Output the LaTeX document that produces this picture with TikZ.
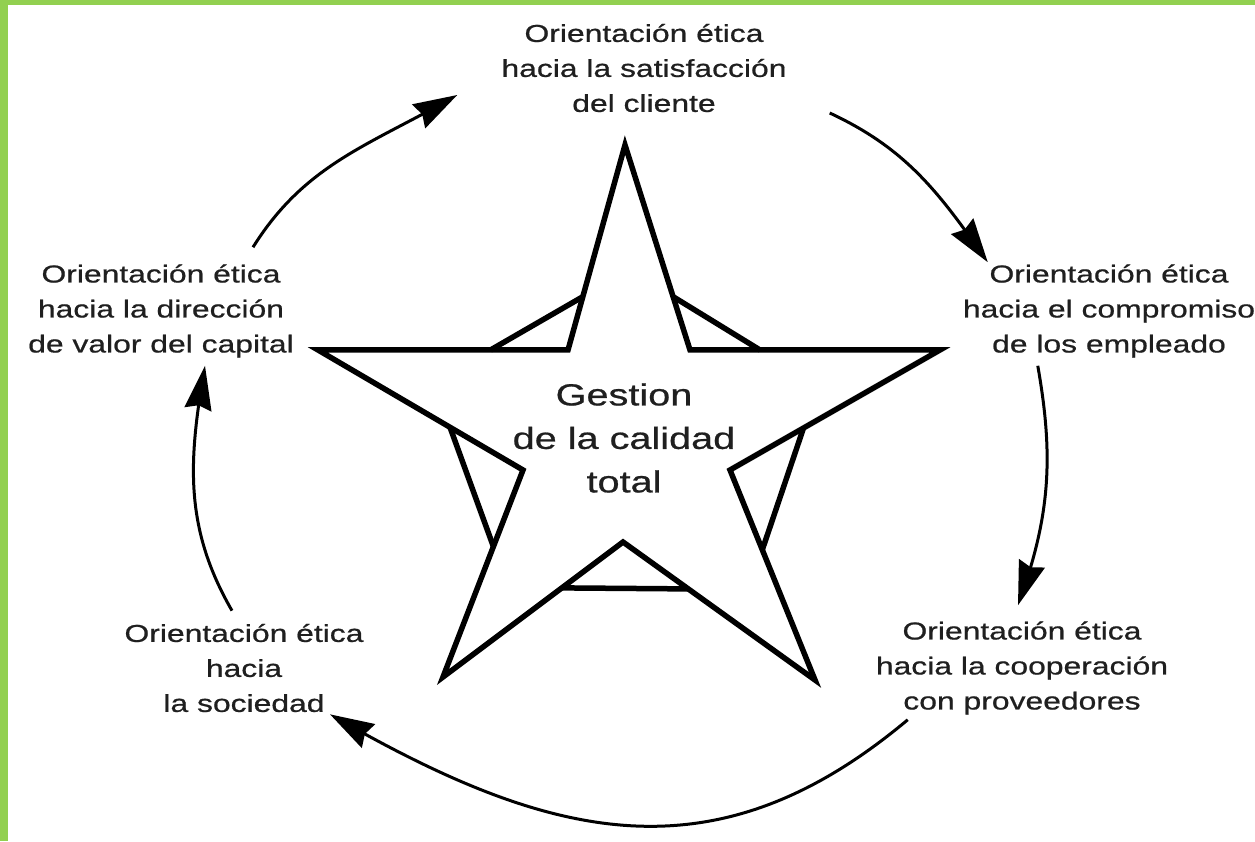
\documentclass[tikz,border=0pt]{standalone}
\usepackage{fontspec}
\setmainfont{Liberation Sans}[FakeStretch=1.3,FakeBold=0.7]
\usetikzlibrary{calc,arrows.meta,bending}
\definecolor{marco}{RGB}{146,208,80}
\tikzset{
  etiqueta/.style={align=center,inner sep=0pt,text=black!88,font=\fontsize{24.5}{35}\selectfont},
  flecha/.style={line width=3pt,-{Stealth[length=44pt,width=27pt,inset=4pt]}},
  estrella/.style={line width=5.5pt}
}

\begin{document}
\begin{tikzpicture}[x=1pt,y=1pt]
\useasboundingbox (0,0) rectangle (1255,841);
\fill[marco] (0,836) rectangle (1255,841);
\fill[marco] (0,0) rectangle (8,841);
\coordinate (T) at (625,696);
\coordinate (L) at (318,491);
\coordinate (R) at (940,491);
\coordinate (BL) at (443,164);
\coordinate (BR) at (815,161);
\coordinate (UL) at (568,491);
\coordinate (UR) at (690,491);
\coordinate (IL) at (523,371);
\coordinate (IR) at (730,371);
\coordinate (IB) at (623,299);
\draw[estrella] (T) -- (UR) -- (R) -- (IR) -- (BR) -- (IB) -- (BL) -- (IL) -- (L) -- (UL) -- cycle;
\draw[estrella] ($(UL)!.31!(L)$) -- ($(UL)!.26!(T)$);
\draw[estrella] ($(UR)!.28!(R)$) -- ($(UR)!.26!(T)$);
\draw[estrella] ($(IL)!.356!(L)$) -- ($(IL)!.37!(BL)$);
\draw[estrella] ($(IR)!.35!(R)$) -- ($(IR)!.38!(BR)$);
\draw[estrella] ($(IB)!.34!(BL)$) -- ($(IB)!.34!(BR)$);
\node[align=center,inner sep=0pt,text=black!88,font=\fontsize{30.5}{43.5}\selectfont] (gest) at (624,403) {Gestion\\de la calidad\\total};
\node[etiqueta] (top) at (644,773) {Orientación ética\\hacia la satisfacción\\del cliente};
\node[etiqueta] (rgt) at (1109,530) {Orientación ética\\hacia el compromiso\\de los empleado};
\node[etiqueta] (lft) at (161,530) {Orientación ética\\hacia la dirección\\de valor del capital};
\node[etiqueta] (brt) at (1022,173) {Orientación ética\\hacia la cooperación\\con proveedores};
\node[etiqueta] (blt) at (244,173) {Orientación ética\\hacia\\la sociedad};
\draw[flecha] ([xshift=92pt,yshift=17pt]lft.north) to[out=58,in=210] ([xshift=-44pt,yshift=-27pt]top.west);
\draw[flecha] ([xshift=43pt,yshift=-45pt]top.east) to[out=-25,in=125] ([xshift=25pt,yshift=2pt]rgt.north west);
\draw[flecha] ([xshift=75pt,yshift=-8pt]rgt.south west) to[out=-80,in=70] ([xshift=-4pt,yshift=16pt]brt.north);
\draw[flecha] ([xshift=32pt,yshift=-5pt]brt.south west) to[out=-140,in=-30,looseness=1.12] ([xshift=86pt,yshift=-2pt]blt.south);
\draw[flecha] ([xshift=-12pt,yshift=13pt]blt.north) to[out=120,in=-100] ([xshift=44pt,yshift=-8pt]lft.south);
\end{tikzpicture}
\end{document}
